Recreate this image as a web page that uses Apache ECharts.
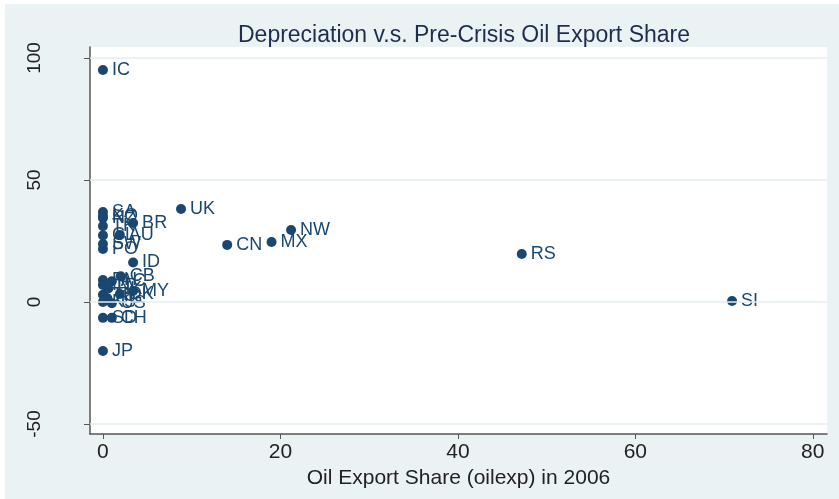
<!DOCTYPE html>
<html><head><meta charset="utf-8">
<script src="https://cdn.jsdelivr.net/npm/echarts@6/dist/echarts.min.js"></script>
<style>html,body{margin:0;padding:0;background:#fff}#c{width:839px;height:499px}</style>
</head><body><div id="c"></div>
<script>
const countries = ["IC","SA","KO","NZ","BR","TK","CL","AU","SW","PO","UK","NW","MX","CN","RS","ID","SI","JP",
  "PH","AC","CB","IN","HK","DK","MY","TH","SG","KS","US","SD","CH"];
const oilexp = [0,0,0,0,3.4,0,0,1.9,0,0,8.8,21.2,19.0,14.0,47.2,3.4,70.9,0,
  0,1.0,2.0,0,0.6,1.9,3.4,0,0.5,0,1.0,0,1.0];
const depreciation = [95.1,36.9,35.2,34.4,32.4,31.1,27.3,27.5,23.8,21.7,38.1,29.5,24.6,23.4,19.7,16.2,0.4,-20.1,
  9.0,8.5,10.5,7.0,5.5,3.3,4.5,3.0,1.5,0.0,-0.5,-6.5,-6.5];
const xTicks = [0,20,40,60,80];
const yTicks = [-50,0,50,100];

const chart = echarts.init(document.getElementById('c'), null, {renderer:'canvas'});
const navy = '#1a476f';
const axisColor = '#555';
const textColor = '#222';
chart.setOption({
  backgroundColor: '#fff',
  animation: false,
  graphic: [{type:'rect', shape:{x:5,y:4,width:834,height:495}, style:{fill:'#eaf2f3'}, z:-10, silent:true}],
  title: {
    text: 'Depreciation v.s. Pre-Crisis Oil Export Share',
    left: 459, top: 19, textAlign: 'center',
    textStyle: {fontFamily:'Liberation Sans', fontSize:23, fontWeight:'normal', color:'#1f2d4d'}
  },
  grid: {left:90, top:47, width:737, height:387, show:true, backgroundColor:'#fff', borderWidth:0},
  xAxis: {
    type:'value', min:-1.46, max:81.6,
    name:'Oil Export Share (oilexp) in 2006', nameLocation:'middle', nameGap:21,
    nameTextStyle:{fontFamily:'Liberation Sans', fontSize:21, color:textColor},
    axisLine:{show:true, onZero:false, lineStyle:{color:axisColor, width:1.5}},
    axisTick:{show:true, customValues:xTicks, length:5, lineStyle:{color:axisColor}},
    axisLabel:{customValues:xTicks, margin:8, fontFamily:'Liberation Sans', fontSize:21, color:textColor},
    splitLine:{show:false}
  },
  yAxis: {
    type:'value', min:-54.1, max:104.5,
    axisLine:{show:true, onZero:false, lineStyle:{color:axisColor, width:1.5}},
    axisTick:{show:true, customValues:yTicks, length:6, lineStyle:{color:axisColor}},
    axisLabel:{customValues:yTicks, rotate:90, margin:46, fontFamily:'Liberation Sans', fontSize:19, color:textColor},
    splitLine:{show:false}
  },
  series: [
    {type:'line', data:[], z:1, silent:true,
     markLine:{silent:true, symbol:'none', label:{show:false},
       lineStyle:{color:'#e4eef0', width:1.5, type:'solid'},
       data: yTicks.map(v=>({yAxis:v}))}},
    {type:'scatter', z:3, symbolSize:10, itemStyle:{color:navy, opacity:1},
     data: countries.map((c,i)=>[oilexp[i], depreciation[i], c]),
     label:{show:true, position:'right', distance:4, formatter:p=>p.data[2],
       fontFamily:'Liberation Sans', fontSize:18, color:navy}}
  ]
});
</script></body></html>
